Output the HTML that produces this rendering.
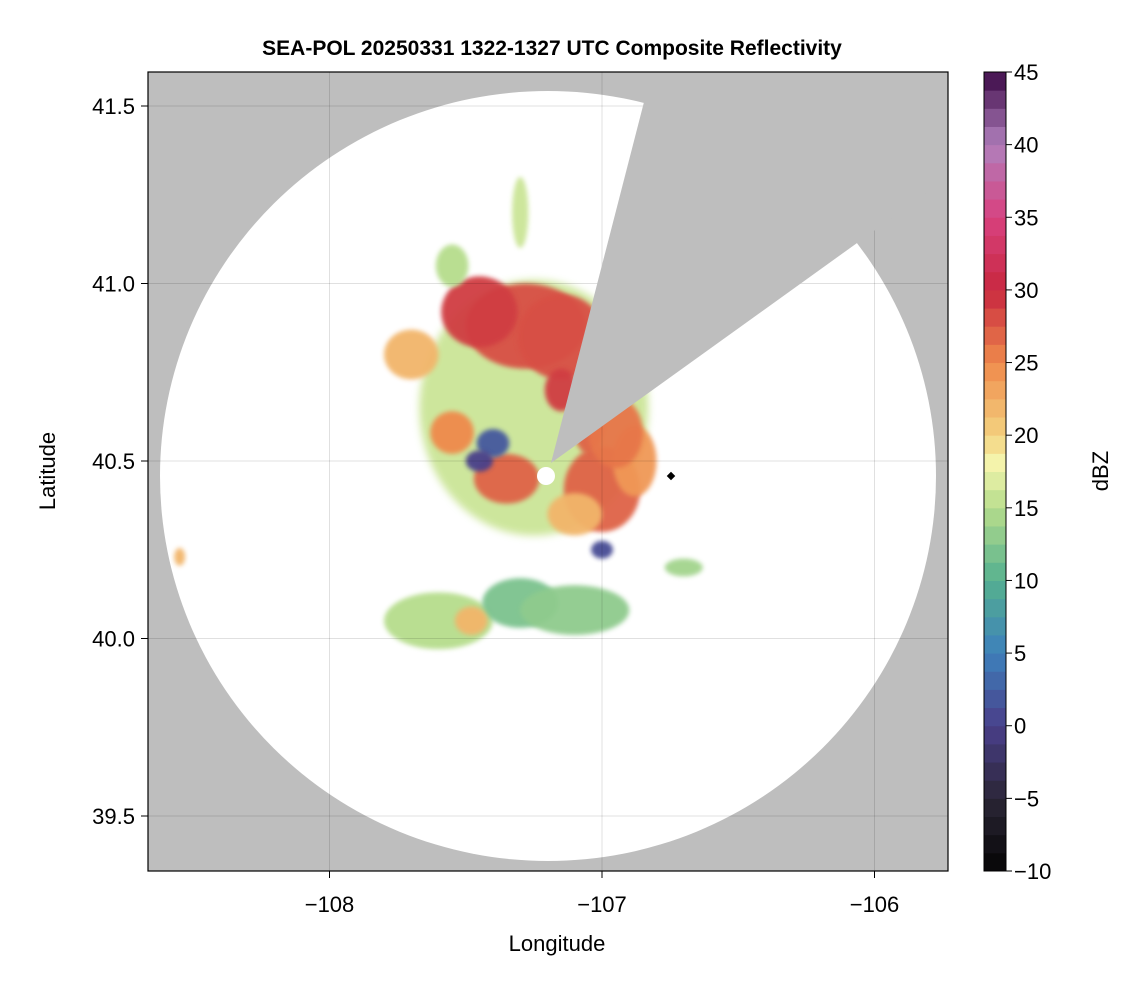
<!DOCTYPE html>
<html><head><meta charset="utf-8">
<style>
body{margin:0;background:#fff;font-family:"Liberation Sans",Arial,sans-serif;}
svg text{font-family:"Liberation Sans",Arial,sans-serif;}
</style></head>
<body>
<svg id="chart" width="1146" height="990" viewBox="0 0 1146 990" xmlns="http://www.w3.org/2000/svg">
<defs>
<clipPath id="plotclip"><rect x="148" y="72" width="800" height="799"/></clipPath>
<filter id="blur" x="-30%" y="-30%" width="160%" height="160%"><feGaussianBlur stdDeviation="4"/></filter>
<filter id="blur2" x="-30%" y="-30%" width="160%" height="160%"><feGaussianBlur stdDeviation="2.5"/></filter>
</defs>
<text x="552" y="55" text-anchor="middle" font-size="21" font-weight="bold">SEA-POL 20250331 1322-1327 UTC Composite Reflectivity</text>
<g id="plot" clip-path="url(#plotclip)">
<rect x="148" y="72" width="800" height="799" fill="#bebebe"/>
<ellipse cx="548" cy="476" rx="388" ry="385" fill="#fff"/>
<g id="echoes"></g>
<g id="grid"></g>
<path d="M551,463 L660,40 L960,40 L960,169 Z" fill="#bebebe"/>
<circle cx="546" cy="476" r="9" fill="#fff"/>
<rect x="668" y="473" width="6" height="6" transform="rotate(45 671 476)" fill="#000"/>
</g>
<rect x="148" y="72" width="800" height="799" fill="none" stroke="#000" stroke-width="1.2"/>
<g id="axes"></g>
<text x="557" y="951" text-anchor="middle" font-size="22">Longitude</text>
<text x="55" y="471" text-anchor="middle" font-size="22" transform="rotate(-90 55 471)">Latitude</text>
<g id="cbar"></g>
<text x="1108" y="471" text-anchor="middle" font-size="22" transform="rotate(-90 1108 471)">dBZ</text>
</svg>
<script>
const lonTicks=[-108,-107,-106];
const latTicks=[39.5,40.0,40.5,41.0,41.5];
const cbarTicks=[-10,-5,0,5,10,15,20,25,30,35,40,45];
// echo cells: lon, lat, radius lon (deg), radius lat (deg), dBZ
const cellLon=[-107.25,-107.28,-107.45,-107.15,-107.0,-106.88,-107.35,-107.55,-107.1,-107.05,-107.6,-107.3,-107.48,-107.1,-106.95,-107.4,-107.7,-107.45,-107.0,-106.7,-108.55,-106.85,-107.3,-107.55,-106.88,-107.15];
const cellLat=[40.65,40.88,40.92,40.85,40.42,40.5,40.45,40.58,40.35,40.62,40.05,40.1,40.05,40.08,40.58,40.55,40.8,40.5,40.25,40.2,40.23,41.3,41.2,41.05,41.1,40.7];
const cellRx=[0.42,0.22,0.14,0.16,0.14,0.08,0.12,0.08,0.1,0.06,0.2,0.14,0.06,0.2,0.1,0.06,0.1,0.05,0.04,0.07,0.02,0.03,0.03,0.06,0.05,0.06];
const cellRy=[0.36,0.12,0.1,0.12,0.12,0.1,0.07,0.06,0.06,0.1,0.08,0.07,0.04,0.07,0.1,0.04,0.07,0.03,0.025,0.025,0.025,0.05,0.1,0.06,0.05,0.06];
const cellDbz=[16,28,29,28,27,24,27,25,22,27,15,12,22,13,26,2,22,0,1,14,22,20,16,15,15,29];
const stopsV=[-10,-5,0,5,10,15,18,20,25,30,35,40,45];
const stopsC=["#050505","#2b2636","#4a3f8a","#3d80bb","#55b08f","#b6dd8c","#f4f5ae","#f4d27f","#ef8a4c","#c8283f","#d8417f","#b080bd","#3d0a47"];
const NS="http://www.w3.org/2000/svg";
const xS=lon=>602+(lon+107)*272.5;
const yS=lat=>461-(lat-40.5)*355;
function hex(h){return [1,3,5].map(i=>parseInt(h.substr(i,2),16));}
function col(v){
  if(v<=stopsV[0])return stopsC[0];
  for(let i=1;i<stopsV.length;i++){if(v<=stopsV[i]){const t=(v-stopsV[i-1])/(stopsV[i]-stopsV[i-1]);const a=hex(stopsC[i-1]),b=hex(stopsC[i]);return "rgb("+a.map((c,k)=>Math.round(c+(b[k]-c)*t)).join(",")+")";}}
  return stopsC[stopsC.length-1];
}
function mk(tag,attrs,parent){const e=document.createElementNS(NS,tag);for(const k in attrs)e.setAttribute(k,attrs[k]);parent.appendChild(e);return e;}
const eg=document.getElementById('echoes');
for(let i=0;i<cellLon.length;i++){
  const e=mk('ellipse',{cx:xS(cellLon[i]),cy:yS(cellLat[i]),rx:cellRx[i]*272.5,ry:cellRy[i]*355,fill:col(cellDbz[i]),filter:i===0?'url(#blur)':'url(#blur2)',opacity:0.95},eg);
  
  
}
const gg=document.getElementById('grid'),ax=document.getElementById('axes');
lonTicks.forEach(v=>{const x=xS(v);
  const l=mk('line',{x1:x,x2:x,y1:72,y2:871,stroke:'#000','stroke-opacity':0.12,'stroke-width':1},gg);
  
  const t=mk('line',{x1:x,x2:x,y1:871,y2:878,stroke:'#000'},ax);
  
  const tx=mk('text',{x:x,y:912,'text-anchor':'middle','font-size':22},ax);tx.textContent='\u2212'+Math.abs(v);
  });
latTicks.forEach(v=>{const y=yS(v);
  const l=mk('line',{x1:148,x2:948,y1:y,y2:y,stroke:'#000','stroke-opacity':0.12,'stroke-width':1},gg);
  
  const t=mk('line',{x1:141,x2:148,y1:y,y2:y,stroke:'#000'},ax);
  
  const tx=mk('text',{x:135,y:y+8,'text-anchor':'end','font-size':22},ax);tx.textContent=v.toFixed(1);
  });
const cb=document.getElementById('cbar');
const cTop=72,cBot=871,cx0=984,cw=22;
const cY=v=>cBot-(v+10)/55*(cBot-cTop);
for(let v=-10;v<45;v+=1.25){
  const r=mk('rect',{x:cx0,y:cY(v+1.25),width:cw,height:cY(v)-cY(v+1.25)+0.5,fill:col(v+0.625)},cb);
  
}
const fr=mk('rect',{x:cx0,y:cTop,width:cw,height:cBot-cTop,fill:'none',stroke:'#000','stroke-width':1},cb);

cbarTicks.forEach(v=>{const y=cY(v);
  const t=mk('line',{x1:cx0+cw,x2:cx0+cw+6,y1:y,y2:y,stroke:'#000'},cb);
  
  const tx=mk('text',{x:1014,y:y+8,'font-size':22},cb);tx.textContent=(v<0?'\u2212':'')+Math.abs(v);
  });
</script>
</body></html>
